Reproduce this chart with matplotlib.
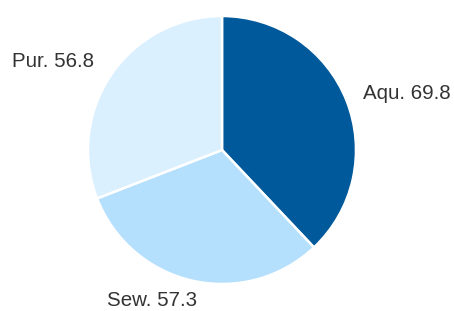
import matplotlib
matplotlib.use("Agg")
import matplotlib.pyplot as plt

categories = ["Aqu.", "Sew.", "Pur."]
values = [69.8, 57.3, 56.8]
colors = ["#00599a", "#b5e0fd", "#dbf0ff"]

W, H = 454, 311
fig = plt.figure(figsize=(W / 100, H / 100), dpi=100)
cx, cy, r = 222, 150, 134
ax = fig.add_axes([(cx - r) / W, (H - cy - r) / H, 2 * r / W, 2 * r / H])
ax.pie(values, colors=colors, startangle=90, counterclock=False,
       wedgeprops=dict(edgecolor="white", linewidth=1.8), radius=1)
ax.set_xlim(-1, 1)
ax.set_ylim(-1, 1)
ax.set_aspect("equal")
ax.axis("off")

labels = [f"{c} {v}" for c, v in zip(categories, values)]
# label anchor points in axes data coords (x, y-baseline, ha)
pos = [(1.05, 0.381, "left"), (-0.19, -1.164, "right"), (-0.955, 0.619, "right")]
for lab, (x, y, ha) in zip(labels, pos):
    ax.text(x, y, lab, ha=ha, va="baseline", fontsize=14.8, color="#333333",
            family="Liberation Sans", clip_on=False)

fig.savefig("out.png", dpi=100)
